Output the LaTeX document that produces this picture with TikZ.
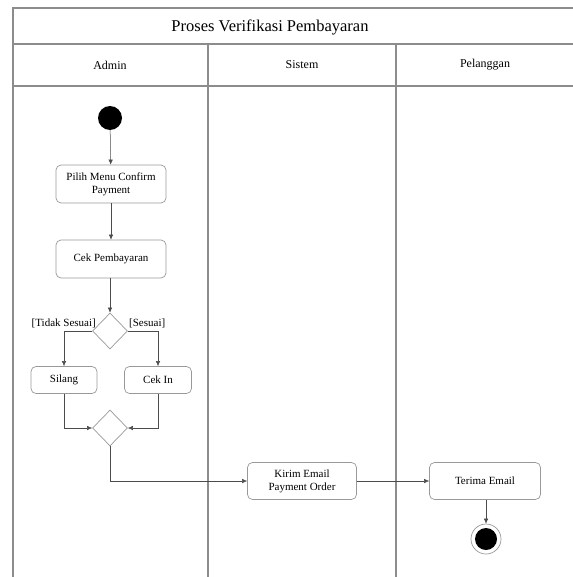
\documentclass[tikz,border=0pt]{standalone}
\usepackage{fontspec}
\setmainfont{Liberation Serif}
\usetikzlibrary{shapes.geometric,arrows.meta}
\begin{document}
\begin{tikzpicture}[x=1pt,y=-1pt,
  frame/.style={draw=black!45,line width=1.1pt},
  act/.style={draw=black!40,rounded corners=5pt,fill=white,line width=0.7pt,align=center,font=\fontsize{11}{13}\selectfont,inner sep=2pt},
  dec/.style={diamond,draw=black!40,line width=0.7pt,minimum width=35pt,minimum height=36pt,inner sep=0pt,fill=white},
  flow/.style={draw=black!70,line width=0.5pt,-{Latex[length=5pt,width=4.5pt]}},
  guard/.style={font=\fontsize{11}{13}\selectfont,inner sep=0pt},
  hdr/.style={font=\fontsize{12}{14}\selectfont}]
\useasboundingbox (0,0) rectangle (572,577);
\fill[white] (0,0) rectangle (572,577);
% frame
\draw[frame] (13,580) -- (13,8) -- (575,8);
\draw[frame] (13,44) -- (575,44);
\draw[frame] (13,86) -- (575,86);
\draw[frame] (208,44) -- (208,580);
\draw[frame] (396,44) -- (396,580);
\node[font=\fontsize{16.5}{19}\selectfont] (title) at (270,27) {Proses Verifikasi Pembayaran};
\node[hdr] (hA) at (110,65) {Admin};
\node[hdr] (hS) at (302,65) {Sistem};
\node[hdr] (hP) at (485,65) {Pelanggan};
% nodes
\node[circle,fill=black,minimum size=24pt,inner sep=0pt] (start) at (110,118) {};
\node[act,minimum width=110pt,minimum height=38pt] (pilih) at (111,184) {Pilih Menu Confirm\\Payment};
\node[act,minimum width=110pt,minimum height=38pt] (cek) at (111,259) {Cek Pembayaran};
\node[dec] (d1) at (110,331) {};
\node[guard,anchor=east] (lt) at (96,323) {[Tidak Sesuai]};
\node[guard,anchor=west] (lr) at (129,323) {[Sesuai]};
\node[act,minimum width=66pt,minimum height=27pt] (silang) at (64,380) {Silang};
\node[act,minimum width=67pt,minimum height=27pt] (cekin) at (158,380) {Cek In};
\node[dec] (d2) at (110,428) {};
\node[act,minimum width=109pt,minimum height=37pt] (kirim) at (302,481) {Kirim Email\\Payment Order};
\node[act,minimum width=111pt,minimum height=37pt] (terima) at (485,481) {Terima Email};
\node[circle,draw=black!40,fill=white,line width=0.7pt,minimum size=30pt,inner sep=0pt] (end) at (486,539) {};
\node[circle,fill=black,minimum size=22pt,inner sep=0pt] (endin) at (486,539) {};
% flows
\draw[flow] (start) -- (pilih);
\draw[flow] (pilih) -- (cek);
\draw[flow] (cek.south -| d1.north) -- (d1.north);
\draw[flow] (d1.west) -| (silang.north);
\draw[flow] (d1.east) -| (cekin.north);
\draw[flow] (silang.south) |- (d2.west);
\draw[flow] (cekin.south) |- (d2.east);
\draw[flow] (d2.south) |- (kirim.west);
\draw[flow] (kirim.east) -- (terima.west);
\draw[flow] (terima.south -| end.north) -- (end.north);
\end{tikzpicture}
\end{document}
